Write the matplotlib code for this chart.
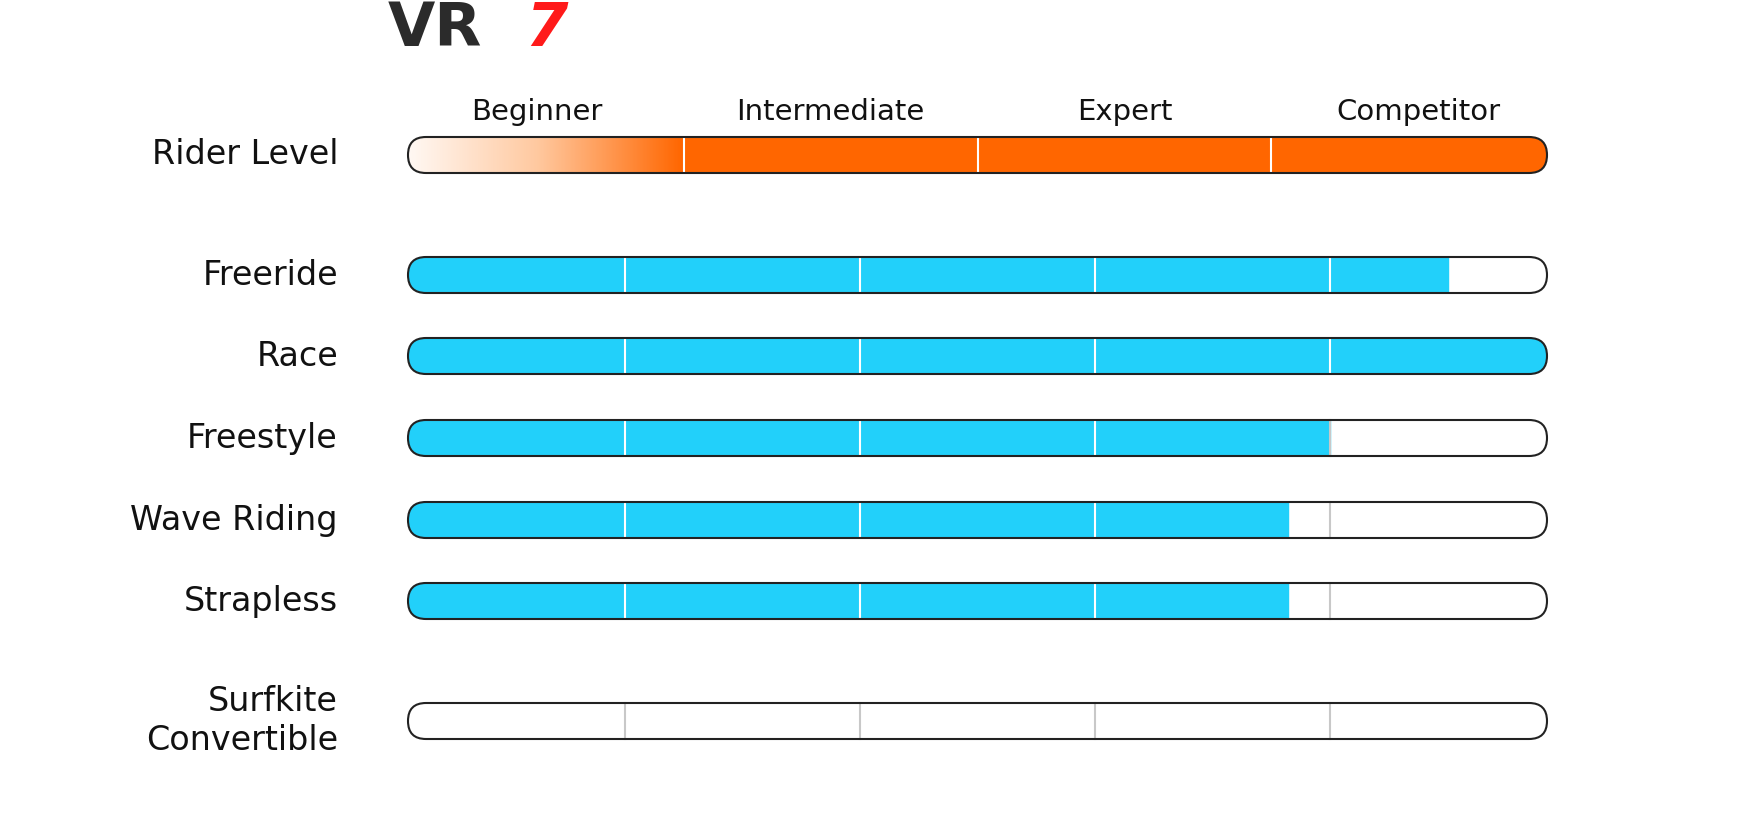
import numpy as np
import matplotlib.pyplot as plt
from matplotlib.patches import FancyBboxPatch
from matplotlib.colors import LinearSegmentedColormap

# data
levels = ["Beginner", "Intermediate", "Expert", "Competitor"]
disciplines = ["Freeride", "Race", "Freestyle", "Wave Riding", "Strapless", "Surfkite\nConvertible"]
scores = [4.5, 5.0, 4.0, 3.82, 3.82, 0.0]
max_score = 5

# layout (pixels)
W, H = 1739, 838
x0, x1 = 390, 1565
bh = 36
rider_y = 155
rows_y = [275, 356, 438, 520, 601, 721]

blue = "#22d0fa"
orange = "#ff6600"
edge = "#222222"

fig = plt.figure(figsize=(W / 100, H / 100), dpi=100)
ax = fig.add_axes([0, 0, 1, 1])
ax.set_xlim(0, W)
ax.set_ylim(H, 0)
ax.axis("off")

def sx(v, n):
    return x0 + v * (x1 - x0) / n

def outline(yc):
    return FancyBboxPatch((x0 + bh / 2, yc - bh / 2), x1 - x0 - bh, bh,
                          boxstyle="round,pad=0,rounding_size=%d" % (bh / 2),
                          mutation_aspect=1, transform=ax.transData)

ax.text(x0 - 2, 30, "VR", fontsize=44, fontweight="black", color="#2b2b2b",
        va="center", ha="left", family="DejaVu Sans")
ax.text(x0 + 135, 30, "7", fontsize=44, fontweight="black", color="#ff1a1a",
        va="center", ha="left", family="DejaVu Sans", style="italic")

# rider level
clip = outline(rider_y)
cmap = LinearSegmentedColormap.from_list("lvl", ["white", "#ffc9a0", orange])
grad = np.linspace(0, 1, 200)[None, :]
im = ax.imshow(grad, cmap=cmap, extent=(x0, sx(1, 4), rider_y + bh / 2, rider_y - bh / 2),
               aspect="auto", zorder=1)
im.set_clip_path(clip)
fill = ax.fill_between([sx(1, 4), x1], rider_y - bh / 2, rider_y + bh / 2, color=orange, zorder=1)
fill.set_clip_path(clip)
for i in range(1, 4):
    ax.plot([sx(i, 4)] * 2, [rider_y - bh / 2, rider_y + bh / 2], color="white", lw=1.5, zorder=2)
ob = outline(rider_y)
ob.set_facecolor("none"); ob.set_edgecolor(edge); ob.set_linewidth(1.5); ob.set_zorder(3)
ax.add_patch(ob)
for i, lv in enumerate(levels):
    ax.text(sx(i + 0.5, 4), 112, lv, fontsize=21, ha="center", va="center", color="#111111")
ax.text(338, rider_y, "Rider Level", fontsize=24, ha="right", va="center", color="#111111")

# disciplines
for name, val, yc in zip(disciplines, scores, rows_y):
    clip = outline(yc)
    if val > 0:
        f = ax.fill_between([x0, sx(val, max_score)], yc - bh / 2, yc + bh / 2, color=blue, zorder=1)
        f.set_clip_path(clip)
    for i in range(1, max_score):
        c = "white" if sx(i, max_score) < sx(val, max_score) - 2 else "#c8c8c8"
        ax.plot([sx(i, max_score)] * 2, [yc - bh / 2, yc + bh / 2], color=c, lw=1.5, zorder=2)
    ob = outline(yc)
    ob.set_facecolor("none"); ob.set_edgecolor(edge); ob.set_linewidth(1.5); ob.set_zorder(3)
    ax.add_patch(ob)
    ax.text(338, yc, name, fontsize=24, ha="right", va="center", color="#111111",
            linespacing=1.2)

fig.savefig("out.png", dpi=100)
